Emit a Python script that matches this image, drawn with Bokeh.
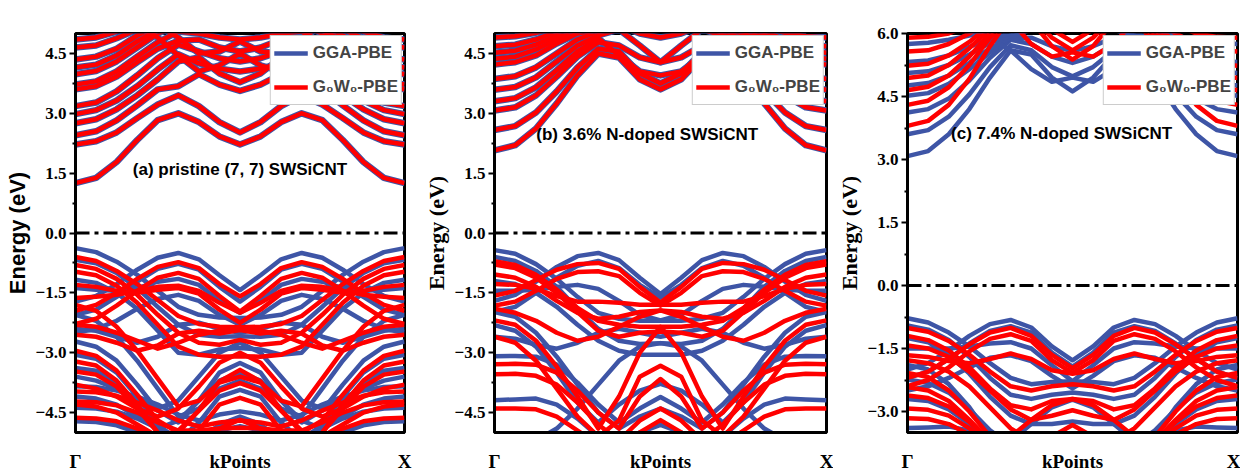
from bokeh.plotting import figure
from bokeh.layouts import row
from bokeh.models import (FixedTicker, CustomJSTickFormatter, Span, Label,
                          Legend, LegendItem, Range1d)
from bokeh.embed import file_html
from bokeh.resources import INLINE

# ---------------- data (energies in eV) ----------------
K_POINTS = [0, 0.0625, 0.125, 0.1875, 0.25, 0.3125, 0.375, 0.4375, 0.5,
            0.5625, 0.625, 0.6875, 0.75, 0.8125, 0.875, 0.9375, 1]
K_TICKS = [0, 0.5, 1]
K_LABELS = ["Γ", "kPoints", "X"]
FERMI_LEVEL = 0.0

SERIES_NAMES = ["GGA-PBE", "G₀W₀-PBE"]
PANEL_TITLES = ["(a) pristine (7, 7) SWSiCNT", "(b) 3.6% N-doped SWSiCNT",
                "(c) 7.4% N-doped SWSiCNT"]

# (a) pristine: GGA and G0W0 conduction bands coincide within reading accuracy
A_CB = [
    [1.25, 1.38, 1.78, 2.33, 2.83, 3.0, 2.78, 2.42, 2.22, 2.42, 2.78, 3.0, 2.83, 2.33, 1.78, 1.38, 1.25],
    [2.22, 2.3, 2.52, 2.88, 3.22, 3.45, 3.18, 2.78, 2.52, 2.78, 3.18, 3.45, 3.22, 2.88, 2.52, 2.3, 2.22],
    [2.45, 2.55, 2.82, 3.2, 3.6, 3.68, 3.98, 3.72, 3.56, 3.72, 3.98, 3.68, 3.6, 3.2, 2.82, 2.55, 2.45],
    [2.75, 2.85, 3.1, 3.45, 3.85, 4.3, 4.4, 4.0, 3.78, 4.0, 4.4, 4.3, 3.85, 3.45, 3.1, 2.85, 2.75],
    [2.98, 3.08, 3.32, 3.68, 4.1, 4.48, 4.25, 4.12, 4.05, 4.12, 4.25, 4.48, 4.1, 3.68, 3.32, 3.08, 2.98],
    [3.18, 3.27, 3.55, 3.95, 4.38, 4.72, 4.55, 4.38, 4.3, 4.38, 4.55, 4.72, 4.38, 3.95, 3.55, 3.27, 3.18],
    [3.6, 3.68, 3.92, 4.28, 4.62, 4.82, 4.85, 4.65, 4.55, 4.65, 4.85, 4.82, 4.62, 4.28, 3.92, 3.68, 3.6],
    [3.72, 3.8, 4.05, 4.42, 4.78, 5.05, 5.0, 4.9, 4.85, 4.9, 5.0, 5.05, 4.78, 4.42, 4.05, 3.8, 3.72],
    [3.98, 4.06, 4.3, 4.65, 5.0, 5.2, 5.2, 5.15, 5.1, 5.15, 5.2, 5.2, 5.0, 4.65, 4.3, 4.06, 3.98],
    [4.15, 4.22, 4.45, 4.8, 5.1, 5.3, 5.3, 5.3, 5.3, 5.3, 5.3, 5.3, 5.1, 4.8, 4.45, 4.22, 4.15],
    [4.35, 4.42, 4.62, 4.95, 5.2, 5.3, 5.3, 5.3, 5.3, 5.3, 5.3, 5.3, 5.2, 4.95, 4.62, 4.42, 4.35],
    [4.65, 4.7, 4.88, 5.1, 5.3, 5.3, 5.3, 5.3, 5.3, 5.3, 5.3, 5.3, 5.3, 5.1, 4.88, 4.7, 4.65],
    [4.85, 4.9, 5.05, 5.2, 5.3, 5.3, 5.3, 5.3, 5.3, 5.3, 5.3, 5.3, 5.3, 5.2, 5.05, 4.9, 4.85],
    [5.3, 5.3, 5.3, 5.2, 4.9, 4.45, 4.05, 4.2, 4.5, 4.2, 4.05, 4.45, 4.9, 5.2, 5.3, 5.3, 5.3],
    [5.3, 5.3, 5.3, 5.3, 5.2, 4.9, 4.5, 4.55, 4.8, 4.55, 4.5, 4.9, 5.2, 5.3, 5.3, 5.3, 5.3],
]
A_VB_GGA = [
    [-0.38, -0.48, -0.72, -1.05, -1.45, -1.85, -2.05, -2.12, -2.13, -2.12, -2.05, -1.85, -1.45, -1.05, -0.72, -0.48, -0.38],
    [-1.72, -1.58, -1.28, -0.92, -0.62, -0.5, -0.66, -1.06, -1.43, -1.06, -0.66, -0.5, -0.62, -0.92, -1.28, -1.58, -1.72],
    [-2.05, -1.92, -1.6, -1.22, -0.9, -0.77, -0.92, -1.35, -1.72, -1.35, -0.92, -0.77, -0.9, -1.22, -1.6, -1.92, -2.05],
    [-0.67, -0.76, -1.0, -1.38, -1.85, -2.3, -2.55, -2.6, -2.59, -2.6, -2.55, -2.3, -1.85, -1.38, -1.0, -0.76, -0.67],
    [-1.17, -1.25, -1.5, -1.9, -2.45, -3.0, -3.05, -2.92, -2.88, -2.92, -3.05, -3.0, -2.45, -1.9, -1.5, -1.25, -1.17],
    [-1.38, -1.42, -1.45, -1.38, -1.22, -1.15, -1.3, -1.7, -2.0, -1.7, -1.3, -1.15, -1.22, -1.38, -1.45, -1.42, -1.38],
    [-2.72, -2.85, -3.2, -3.8, -4.45, -4.75, -4.2, -3.5, -3.26, -3.5, -4.2, -4.75, -4.45, -3.8, -3.2, -2.85, -2.72],
    [-3.05, -3.15, -3.5, -4.1, -4.8, -5.2, -4.75, -4.1, -3.93, -4.1, -4.75, -5.2, -4.8, -4.1, -3.5, -3.15, -3.05],
    [-2.4, -2.45, -2.6, -2.75, -2.6, -2.3, -2.25, -2.4, -2.5, -2.4, -2.25, -2.3, -2.6, -2.75, -2.6, -2.45, -2.4],
    [-3.38, -3.45, -3.75, -4.3, -4.9, -5.3, -5.2, -4.8, -4.6, -4.8, -5.2, -5.3, -4.9, -4.3, -3.75, -3.45, -3.38],
    [-3.84, -3.86, -3.95, -4.1, -4.3, -4.55, -4.7, -4.55, -4.47, -4.55, -4.7, -4.55, -4.3, -4.1, -3.95, -3.86, -3.84],
    [-4.38, -4.4, -4.48, -4.65, -4.9, -5.1, -5.1, -4.95, -4.84, -4.95, -5.1, -5.1, -4.9, -4.65, -4.48, -4.4, -4.38],
    [-4.72, -4.74, -4.82, -5.0, -5.2, -5.3, -5.3, -5.2, -5.1, -5.2, -5.3, -5.3, -5.2, -5.0, -4.82, -4.74, -4.72],
    [-2.5, -2.4, -2.2, -1.9, -1.65, -1.55, -1.7, -2.05, -2.3, -2.05, -1.7, -1.55, -1.65, -1.9, -2.2, -2.4, -2.5],
    [-3.6, -3.7, -3.9, -4.2, -4.4, -4.2, -3.6, -3.0, -2.75, -3.0, -3.6, -4.2, -4.4, -4.2, -3.9, -3.7, -3.6],
    [-4.1, -4.15, -4.3, -4.6, -4.9, -4.7, -4.2, -3.7, -3.5, -3.7, -4.2, -4.7, -4.9, -4.6, -4.3, -4.15, -4.1],
    [-2.05, -2.2, -2.6, -3.2, -3.9, -4.6, -4.4, -3.9, -3.7, -3.9, -4.4, -4.6, -3.9, -3.2, -2.6, -2.2, -2.05],
]
A_VB_G0W0 = [
    [-0.6, -0.7, -0.95, -1.28, -1.68, -2.08, -2.28, -2.35, -2.36, -2.35, -2.28, -2.08, -1.68, -1.28, -0.95, -0.7, -0.6],
    [-1.95, -1.8, -1.5, -1.15, -0.85, -0.73, -0.88, -1.28, -1.59, -1.28, -0.88, -0.73, -0.85, -1.15, -1.5, -1.8, -1.95],
    [-2.28, -2.15, -1.82, -1.45, -1.12, -1.0, -1.15, -1.58, -1.97, -1.58, -1.15, -1.0, -1.12, -1.45, -1.82, -2.15, -2.28],
    [-0.8, -0.9, -1.15, -1.55, -2.05, -2.5, -2.75, -2.8, -2.68, -2.8, -2.75, -2.5, -2.05, -1.55, -1.15, -0.9, -0.8],
    [-0.97, -1.06, -1.32, -1.75, -2.3, -2.85, -3.05, -3.1, -3.09, -3.1, -3.05, -2.85, -2.3, -1.75, -1.32, -1.06, -0.97],
    [-1.3, -1.35, -1.45, -1.5, -1.42, -1.38, -1.52, -1.92, -2.25, -1.92, -1.52, -1.38, -1.42, -1.5, -1.45, -1.35, -1.3],
    [-2.95, -3.08, -3.45, -4.05, -4.7, -5.0, -4.45, -3.72, -3.43, -3.72, -4.45, -5.0, -4.7, -4.05, -3.45, -3.08, -2.95],
    [-3.22, -3.32, -3.7, -4.3, -5.0, -5.4, -4.95, -4.3, -4.13, -4.3, -4.95, -5.4, -5.0, -4.3, -3.7, -3.32, -3.22],
    [-2.55, -2.6, -2.75, -2.95, -2.82, -2.52, -2.45, -2.52, -2.43, -2.52, -2.45, -2.52, -2.82, -2.95, -2.75, -2.6, -2.55],
    [-3.47, -3.55, -3.85, -4.4, -5.0, -5.4, -5.3, -4.9, -4.68, -4.9, -5.3, -5.4, -5.0, -4.4, -3.85, -3.55, -3.47],
    [-3.97, -3.99, -4.08, -4.25, -4.45, -4.7, -4.85, -4.75, -4.7, -4.75, -4.85, -4.7, -4.45, -4.25, -4.08, -3.99, -3.97],
    [-4.22, -4.24, -4.32, -4.5, -4.75, -4.95, -4.95, -4.9, -4.88, -4.9, -4.95, -4.95, -4.75, -4.5, -4.32, -4.24, -4.22],
    [-4.63, -4.65, -4.72, -4.9, -5.1, -5.2, -5.2, -5.1, -5.05, -5.1, -5.2, -5.2, -5.1, -4.9, -4.72, -4.65, -4.63],
    [-1.63, -1.6, -1.55, -1.45, -1.35, -1.32, -1.45, -1.75, -2.0, -1.75, -1.45, -1.32, -1.35, -1.45, -1.55, -1.6, -1.63],
    [-3.8, -3.9, -4.1, -4.4, -4.6, -4.4, -3.85, -3.25, -3.0, -3.25, -3.85, -4.4, -4.6, -4.4, -4.1, -3.9, -3.8],
    [-4.3, -4.35, -4.5, -4.8, -5.1, -4.95, -4.45, -3.95, -3.76, -3.95, -4.45, -4.95, -5.1, -4.8, -4.5, -4.35, -4.3],
    [-1.8, -1.95, -2.35, -2.95, -3.65, -4.35, -4.2, -3.75, -3.6, -3.75, -4.2, -4.35, -3.65, -2.95, -2.35, -1.95, -1.8],
    [-2.3, -2.35, -2.5, -2.7, -2.9, -2.75, -2.55, -2.45, -2.4, -2.45, -2.55, -2.75, -2.9, -2.7, -2.5, -2.35, -2.3],
]

# (b) 3.6% N-doped: conduction bands of both methods coincide
B_CB = [
    [2.07, 2.2, 2.62, 3.25, 3.95, 4.5, 4.4, 3.85, 3.6, 3.85, 4.4, 4.5, 3.95, 3.25, 2.62, 2.2, 2.07],
    [2.58, 2.68, 3.02, 3.55, 4.15, 4.62, 4.55, 4.0, 3.75, 4.0, 4.55, 4.62, 4.15, 3.55, 3.02, 2.68, 2.58],
    [3.07, 3.15, 3.45, 3.92, 4.42, 4.78, 4.7, 4.4, 4.28, 4.4, 4.7, 4.78, 4.42, 3.92, 3.45, 3.15, 3.07],
    [3.3, 3.38, 3.65, 4.08, 4.55, 4.88, 4.45, 4.05, 3.95, 4.05, 4.45, 4.88, 4.55, 4.08, 3.65, 3.38, 3.3],
    [3.59, 3.66, 3.9, 4.3, 4.7, 4.95, 5.1, 4.7, 4.28, 4.7, 5.1, 4.95, 4.7, 4.3, 3.9, 3.66, 3.59],
    [3.86, 3.93, 4.15, 4.5, 4.85, 5.05, 5.2, 5.0, 4.9, 5.0, 5.2, 5.05, 4.85, 4.5, 4.15, 3.93, 3.86],
    [4.22, 4.28, 4.45, 4.75, 5.0, 5.1, 5.2, 5.2, 5.2, 5.2, 5.2, 5.1, 5.0, 4.75, 4.45, 4.28, 4.22],
    [4.37, 4.42, 4.6, 4.85, 5.05, 5.2, 5.2, 5.2, 5.2, 5.2, 5.2, 5.2, 5.05, 4.85, 4.6, 4.42, 4.37],
    [4.52, 4.57, 4.72, 4.95, 5.15, 5.2, 5.2, 5.2, 5.2, 5.2, 5.2, 5.2, 5.15, 4.95, 4.72, 4.57, 4.52],
    [4.68, 4.72, 4.85, 5.05, 5.2, 5.2, 5.2, 5.2, 5.2, 5.2, 5.2, 5.2, 5.2, 5.05, 4.85, 4.72, 4.68],
    [4.9, 4.93, 5.02, 5.15, 5.2, 5.2, 5.2, 5.2, 5.2, 5.2, 5.2, 5.2, 5.2, 5.15, 5.02, 4.93, 4.9],
]
B_VB_GGA = [
    [-0.43, -0.52, -0.78, -1.15, -1.6, -2.0, -2.15, -2.2, -2.19, -2.2, -2.15, -2.0, -1.6, -1.15, -0.78, -0.52, -0.43],
    [-1.7, -1.55, -1.22, -0.85, -0.58, -0.5, -0.68, -1.12, -1.53, -1.12, -0.68, -0.5, -0.58, -0.85, -1.22, -1.55, -1.7],
    [-1.98, -1.85, -1.5, -1.12, -0.82, -0.7, -0.88, -1.3, -1.62, -1.3, -0.88, -0.7, -0.82, -1.12, -1.5, -1.85, -1.98],
    [-0.6, -0.7, -0.95, -1.35, -1.9, -2.4, -2.7, -2.78, -2.76, -2.78, -2.7, -2.4, -1.9, -1.35, -0.95, -0.7, -0.6],
    [-1.2, -1.28, -1.5, -1.85, -2.3, -2.7, -2.95, -3.05, -3.05, -3.05, -2.95, -2.7, -2.3, -1.85, -1.5, -1.28, -1.2],
    [-1.45, -1.45, -1.42, -1.35, -1.3, -1.4, -1.7, -2.05, -2.19, -2.05, -1.7, -1.4, -1.3, -1.35, -1.42, -1.45, -1.45],
    [-2.31, -2.45, -2.85, -3.5, -4.25, -4.75, -4.3, -3.95, -3.78, -3.95, -4.3, -4.75, -4.25, -3.5, -2.85, -2.45, -2.31],
    [-3.09, -3.08, -3.1, -3.3, -3.75, -4.3, -4.75, -4.4, -4.11, -4.4, -4.75, -4.3, -3.75, -3.3, -3.1, -3.08, -3.09],
    [-4.19, -4.17, -4.15, -4.3, -4.65, -5.1, -5.3, -5.0, -4.81, -5.0, -5.3, -5.1, -4.65, -4.3, -4.15, -4.17, -4.19],
    [-1.98, -2.1, -2.5, -3.1, -3.8, -4.5, -4.9, -4.6, -4.4, -4.6, -4.9, -4.5, -3.8, -3.1, -2.5, -2.1, -1.98],
    [-5.3, -5.3, -5.2, -4.9, -4.4, -3.8, -3.2, -2.85, -2.76, -2.85, -3.2, -3.8, -4.4, -4.9, -5.2, -5.3, -5.3],
    [-2.6, -2.65, -2.8, -2.9, -2.75, -2.5, -2.4, -2.5, -2.6, -2.5, -2.4, -2.5, -2.75, -2.9, -2.8, -2.65, -2.6],
]
B_VB_G0W0 = [
    [-0.71, -0.8, -1.05, -1.42, -1.88, -2.2, -2.3, -2.35, -2.35, -2.35, -2.3, -2.2, -1.88, -1.42, -1.05, -0.8, -0.71],
    [-1.57, -1.45, -1.18, -0.92, -0.78, -0.75, -0.9, -1.35, -1.74, -1.35, -0.9, -0.75, -0.78, -0.92, -1.18, -1.45, -1.57],
    [-1.82, -1.72, -1.45, -1.15, -0.98, -0.96, -1.08, -1.5, -1.82, -1.5, -1.08, -0.96, -0.98, -1.15, -1.45, -1.72, -1.82],
    [-0.79, -0.88, -1.12, -1.5, -1.98, -2.45, -2.6, -2.5, -2.47, -2.5, -2.6, -2.45, -1.98, -1.5, -1.12, -0.88, -0.79],
    [-1.04, -1.12, -1.35, -1.7, -2.0, -2.15, -2.1, -1.98, -1.94, -1.98, -2.1, -2.15, -2.0, -1.7, -1.35, -1.12, -1.04],
    [-1.28, -1.3, -1.4, -1.58, -1.72, -1.72, -1.75, -1.8, -1.8, -1.8, -1.75, -1.72, -1.72, -1.58, -1.4, -1.3, -1.28],
    [-2.19, -2.3, -2.7, -3.35, -4.1, -4.9, -4.1, -3.0, -2.35, -3.0, -4.1, -4.9, -4.1, -3.35, -2.7, -2.3, -2.19],
    [-3.29, -3.28, -3.3, -3.5, -3.95, -4.5, -4.9, -4.1, -3.66, -4.1, -4.9, -4.5, -3.95, -3.5, -3.3, -3.28, -3.29],
    [-3.54, -3.53, -3.58, -3.8, -4.25, -4.8, -5.2, -4.7, -4.4, -4.7, -5.2, -4.8, -4.25, -3.8, -3.58, -3.53, -3.54],
    [-4.4, -4.4, -4.42, -4.6, -4.95, -5.3, -5.3, -5.0, -4.69, -5.0, -5.3, -5.3, -4.95, -4.6, -4.42, -4.4, -4.4],
    [-2.6, -2.75, -3.2, -3.9, -4.6, -5.1, -4.7, -3.6, -3.33, -3.6, -4.7, -5.1, -4.6, -3.9, -3.2, -2.75, -2.6],
    [-1.9, -2.0, -2.2, -2.5, -2.7, -2.6, -2.35, -2.1, -1.94, -2.1, -2.35, -2.6, -2.7, -2.5, -2.2, -2.0, -1.9],
]

# (c) 7.4% N-doped
C_CB_GGA = [
    [3.08, 3.2, 3.6, 4.2, 4.95, 5.6, 5.5, 4.95, 4.62, 4.95, 5.5, 5.6, 4.95, 4.2, 3.6, 3.2, 3.08],
    [3.6, 3.7, 4.02, 4.55, 5.2, 5.72, 5.6, 5.2, 4.98, 5.2, 5.6, 5.72, 5.2, 4.55, 4.02, 3.7, 3.6],
    [4.12, 4.2, 4.45, 4.88, 5.42, 5.85, 5.75, 5.45, 5.3, 5.45, 5.75, 5.85, 5.42, 4.88, 4.45, 4.2, 4.12],
    [4.52, 4.58, 4.8, 5.15, 5.55, 5.9, 5.9, 5.7, 5.58, 5.7, 5.9, 5.9, 5.55, 5.15, 4.8, 4.58, 4.52],
    [4.76, 4.82, 5.0, 5.3, 5.65, 5.9, 6.1, 6.1, 6.1, 6.1, 6.1, 5.9, 5.65, 5.3, 5.0, 4.82, 4.76],
    [5.06, 5.1, 5.25, 5.5, 5.78, 5.95, 6.1, 6.1, 6.1, 6.1, 6.1, 5.95, 5.78, 5.5, 5.25, 5.1, 5.06],
    [5.32, 5.36, 5.48, 5.68, 5.88, 6.0, 6.1, 6.1, 6.1, 6.1, 6.1, 6.0, 5.88, 5.68, 5.48, 5.36, 5.32],
    [5.75, 5.78, 5.85, 5.95, 6.05, 6.1, 6.1, 6.1, 6.1, 6.1, 6.1, 6.1, 6.05, 5.95, 5.85, 5.78, 5.75],
    [6.1, 6.1, 6.1, 6.05, 5.9, 5.6, 5.15, 4.85, 4.95, 4.85, 5.15, 5.6, 5.9, 6.05, 6.1, 6.1, 6.1],
]
C_CB_G0W0 = [
    [3.8, 3.92, 4.3, 4.92, 5.7, 6.4, 6.3, 5.7, 5.38, 5.7, 6.3, 6.4, 5.7, 4.92, 4.3, 3.92, 3.8],
    [4.3, 4.4, 4.72, 5.25, 5.9, 6.4, 6.4, 5.9, 5.6, 5.9, 6.4, 6.4, 5.9, 5.25, 4.72, 4.4, 4.3],
    [4.65, 4.73, 5.0, 5.45, 6.0, 6.4, 6.4, 6.1, 5.8, 6.1, 6.4, 6.4, 6.0, 5.45, 5.0, 4.73, 4.65],
    [4.94, 5.0, 5.25, 5.65, 6.1, 6.4, 6.4, 6.4, 6.4, 6.4, 6.4, 6.4, 6.1, 5.65, 5.25, 5.0, 4.94],
    [5.23, 5.28, 5.48, 5.8, 6.2, 6.4, 6.4, 6.4, 6.4, 6.4, 6.4, 6.4, 6.2, 5.8, 5.48, 5.28, 5.23],
    [5.57, 5.6, 5.75, 6.0, 6.3, 6.4, 6.4, 6.4, 6.4, 6.4, 6.4, 6.4, 6.3, 6.0, 5.75, 5.6, 5.57],
    [5.9, 5.92, 6.0, 6.2, 6.4, 6.4, 6.4, 6.4, 6.4, 6.4, 6.4, 6.4, 6.4, 6.2, 6.0, 5.92, 5.9],
    [6.4, 6.4, 6.4, 6.4, 6.4, 6.3, 5.75, 5.45, 5.55, 5.45, 5.75, 6.3, 6.4, 6.4, 6.4, 6.4, 6.4],
]
C_VB_GGA = [
    [-0.78, -0.88, -1.12, -1.45, -1.85, -2.2, -2.35, -2.3, -2.28, -2.3, -2.35, -2.2, -1.85, -1.45, -1.12, -0.88, -0.78],
    [-2.0, -1.85, -1.55, -1.2, -0.92, -0.82, -1.0, -1.45, -1.78, -1.45, -1.0, -0.82, -0.92, -1.2, -1.55, -1.85, -2.0],
    [-2.2, -2.05, -1.75, -1.38, -1.08, -0.97, -1.12, -1.6, -1.93, -1.6, -1.12, -0.97, -1.08, -1.38, -1.75, -2.05, -2.2],
    [-0.95, -1.05, -1.3, -1.7, -2.2, -2.6, -2.7, -2.6, -2.55, -2.6, -2.7, -2.6, -2.2, -1.7, -1.3, -1.05, -0.95],
    [-1.5, -1.5, -1.5, -1.45, -1.38, -1.35, -1.5, -1.9, -2.28, -1.9, -1.5, -1.35, -1.38, -1.45, -1.5, -1.5, -1.5],
    [-1.25, -1.35, -1.65, -2.1, -2.65, -3.1, -3.3, -3.3, -3.24, -3.3, -3.3, -3.1, -2.65, -2.1, -1.65, -1.35, -1.25],
    [-1.89, -2.0, -2.35, -2.9, -3.6, -3.8, -3.8, -3.7, -3.6, -3.7, -3.8, -3.8, -3.6, -2.9, -2.35, -2.0, -1.89],
    [-2.24, -2.32, -2.55, -2.95, -3.45, -3.8, -3.8, -3.8, -3.8, -3.8, -3.8, -3.8, -3.45, -2.95, -2.55, -2.32, -2.24],
    [-2.7, -2.75, -2.95, -3.3, -3.7, -3.8, -3.8, -3.8, -3.8, -3.8, -3.8, -3.8, -3.7, -3.3, -2.95, -2.75, -2.7],
    [-3.39, -3.38, -3.36, -3.45, -3.7, -3.8, -3.8, -3.8, -3.8, -3.8, -3.8, -3.8, -3.7, -3.45, -3.36, -3.38, -3.39],
    [-3.8, -3.8, -3.8, -3.8, -3.8, -3.7, -3.3, -2.9, -2.72, -2.9, -3.3, -3.7, -3.8, -3.8, -3.8, -3.8, -3.8],
    [-2.5, -2.4, -2.2, -1.95, -1.72, -1.66, -1.8, -2.15, -2.45, -2.15, -1.8, -1.66, -1.72, -1.95, -2.2, -2.4, -2.5],
]
C_VB_G0W0 = [
    [-1.01, -1.1, -1.32, -1.65, -2.05, -2.4, -2.5, -2.4, -2.35, -2.4, -2.5, -2.4, -2.05, -1.65, -1.32, -1.1, -1.01],
    [-2.2, -2.05, -1.75, -1.4, -1.12, -1.01, -1.2, -1.65, -1.97, -1.65, -1.2, -1.01, -1.12, -1.4, -1.75, -2.05, -2.2],
    [-2.4, -2.25, -1.95, -1.57, -1.27, -1.16, -1.32, -1.78, -2.08, -1.78, -1.32, -1.16, -1.27, -1.57, -1.95, -2.25, -2.4],
    [-1.2, -1.3, -1.55, -1.95, -2.45, -2.85, -2.95, -2.75, -2.7, -2.75, -2.95, -2.85, -2.45, -1.95, -1.55, -1.3, -1.2],
    [-1.43, -1.5, -1.7, -2.05, -2.5, -2.95, -3.2, -3.1, -2.97, -3.1, -3.2, -2.95, -2.5, -2.05, -1.7, -1.5, -1.43],
    [-1.66, -1.7, -1.8, -1.85, -1.75, -1.62, -1.75, -2.02, -2.1, -2.02, -1.75, -1.62, -1.75, -1.85, -1.8, -1.7, -1.66],
    [-1.78, -1.85, -2.05, -2.4, -2.9, -3.4, -3.7, -3.6, -3.32, -3.6, -3.7, -3.4, -2.9, -2.4, -2.05, -1.85, -1.78],
    [-2.08, -2.18, -2.5, -3.0, -3.6, -3.8, -3.8, -3.8, -3.8, -3.8, -3.8, -3.8, -3.6, -3.0, -2.5, -2.18, -2.08],
    [-2.42, -2.5, -2.75, -3.2, -3.7, -3.8, -3.8, -3.8, -3.8, -3.8, -3.8, -3.8, -3.7, -3.2, -2.75, -2.5, -2.42],
    [-2.62, -2.68, -2.88, -3.25, -3.7, -3.8, -3.8, -3.8, -3.8, -3.8, -3.8, -3.8, -3.7, -3.25, -2.88, -2.68, -2.62],
    [-2.93, -2.96, -3.1, -3.4, -3.8, -3.8, -3.8, -3.8, -3.8, -3.8, -3.8, -3.8, -3.8, -3.4, -3.1, -2.96, -2.93],
    [-3.16, -3.18, -3.3, -3.55, -3.8, -3.8, -3.8, -3.8, -3.8, -3.8, -3.8, -3.8, -3.8, -3.55, -3.3, -3.18, -3.16],
    [-3.8, -3.8, -3.8, -3.8, -3.8, -3.6, -3.2, -2.85, -2.7, -2.85, -3.2, -3.6, -3.8, -3.8, -3.8, -3.8, -3.8],
]

Y_TICKS_AB = [-4.5, -3.0, -1.5, 0.0, 1.5, 3.0, 4.5]
Y_MINOR_AB = [-3.75, -2.25, -0.75, 0.75, 2.25, 3.75]
Y_TICKS_C = [-3.0, -1.5, 0.0, 1.5, 3.0, 4.5, 6.0]
Y_MINOR_C = [-2.25, -0.75, 0.75, 2.25, 3.75, 5.25]

BLUE = "#3E55A6"
RED = "#FF0000"


def make_panel(w, h, left, right, top, bottom, y_lo, y_hi, y_ticks, y_minor,
               cb_gga, cb_g0w0, vb_gga, vb_g0w0, blue_cb_width,
               title, tx, ty, ylab_font, ylab_size):
    p = figure(width=w, height=h, x_range=Range1d(0, 1), y_range=Range1d(y_lo, y_hi),
               output_backend="svg", toolbar_location=None,
               min_border_left=left, min_border_right=right,
               min_border_top=top, min_border_bottom=bottom)
    p.grid.visible = False
    p.outline_line_color = "black"
    p.outline_line_width = 3
    p.outline_line_alpha = 1.0

    p.multi_line([K_POINTS] * len(cb_gga), cb_gga, line_color=BLUE,
                 line_width=blue_cb_width, line_join="round")
    r_blue = p.multi_line([K_POINTS] * len(vb_gga), vb_gga, line_color=BLUE,
                          line_width=4.5, line_join="round")
    p.multi_line([K_POINTS] * len(cb_g0w0), cb_g0w0, line_color=RED,
                 line_width=4.5, line_join="round")
    r_red = p.multi_line([K_POINTS] * len(vb_g0w0), vb_g0w0, line_color=RED,
                         line_width=4.5, line_join="round")

    p.add_layout(Span(location=FERMI_LEVEL, dimension="width", line_color="black",
                      line_width=3, line_dash="14 5 4 5"))

    yax = p.yaxis[0]
    yax.ticker = FixedTicker(ticks=y_ticks, minor_ticks=y_minor)
    yax.formatter = CustomJSTickFormatter(code="return tick.toFixed(1).replace('-', '\\u2212');")
    yax.major_label_text_font = "Liberation Serif"
    yax.major_label_text_font_style = "bold"
    yax.major_label_text_font_size = "17px"
    yax.major_label_text_color = "black"
    yax.major_label_standoff = 3
    yax.major_tick_out = 6
    yax.major_tick_in = 0
    yax.major_tick_line_width = 2
    yax.minor_tick_out = 3
    yax.minor_tick_in = 0
    yax.minor_tick_line_width = 2
    yax.axis_line_width = 3
    yax.axis_label = "Energy (eV)"
    yax.axis_label_text_font = ylab_font
    yax.axis_label_text_font_style = "bold"
    yax.axis_label_text_font_size = ylab_size
    yax.axis_label_text_color = "black"
    yax.axis_label_standoff = 3

    xax = p.xaxis[0]
    xax.ticker = FixedTicker(ticks=K_TICKS)
    xax.formatter = CustomJSTickFormatter(
        args=dict(kpos=K_TICKS, knames=K_LABELS),
        code="const i = kpos.indexOf(tick); return i >= 0 ? knames[i] : '';")
    xax.major_label_text_font = "Liberation Serif"
    xax.major_label_text_font_style = "bold"
    xax.major_label_text_font_size = "19px"
    xax.major_label_text_color = "black"
    xax.major_label_standoff = 18
    xax.major_tick_out = 0
    xax.major_tick_in = 0
    xax.minor_tick_out = 0
    xax.minor_tick_in = 0
    xax.axis_line_width = 3

    p.add_layout(Label(x=tx, y=ty, text=title, text_align="center",
                       text_baseline="middle", text_font="Liberation Sans",
                       text_font_style="bold", text_font_size="17px",
                       text_color="black"))

    legend = Legend(items=[LegendItem(label=SERIES_NAMES[0], renderers=[r_blue]),
                           LegendItem(label=SERIES_NAMES[1], renderers=[r_red])],
                    location="top_right", margin=2, padding=3, spacing=6,
                    glyph_width=34, glyph_height=28, label_height=28,
                    label_standoff=5, label_text_font="Liberation Sans",
                    label_text_font_style="bold", label_text_font_size="17px",
                    border_line_color="#999999", border_line_width=1,
                    background_fill_color="white", background_fill_alpha=1.0)
    p.add_layout(legend)
    return p


pa = make_panel(420, 475, 75, 16, 33, 43, -5, 5, Y_TICKS_AB, Y_MINOR_AB,
                A_CB, A_CB, A_VB_GGA, A_VB_G0W0, 6.5,
                PANEL_TITLES[0], 0.5, 1.58, "Liberation Sans", "22px")
pb = make_panel(413, 475, 74, 7, 27, 41, -5, 5, Y_TICKS_AB, Y_MINOR_AB,
                B_CB, B_CB, B_VB_GGA, B_VB_G0W0, 6.5,
                PANEL_TITLES[1], 0.46, 2.48, "Liberation Serif", "22px")
pc = make_panel(407, 475, 74, 3, 23, 40, -3.5, 6.0, Y_TICKS_C, Y_MINOR_C,
                C_CB_GGA, C_CB_G0W0, C_VB_GGA, C_VB_G0W0, 4.5,
                PANEL_TITLES[2], 0.467, 3.63, "Liberation Serif", "22px")

layout = row(pa, pb, pc)
open("out.html", "w").write(file_html(layout, INLINE))
